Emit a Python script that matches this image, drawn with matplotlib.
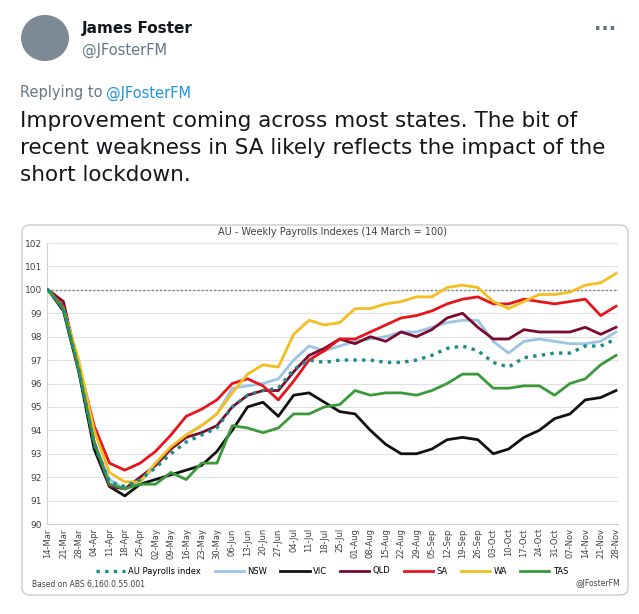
import matplotlib
matplotlib.use("Agg")
import matplotlib.pyplot as plt
from matplotlib.patches import FancyBboxPatch, Circle

dates = ["14-Mar","21-Mar","28-Mar","04-Apr","11-Apr","18-Apr","25-Apr","02-May","09-May","16-May",
         "23-May","30-May","06-Jun","13-Jun","20-Jun","27-Jun","04-Jul","11-Jul","18-Jul","25-Jul",
         "01-Aug","08-Aug","15-Aug","22-Aug","29-Aug","05-Sep","12-Sep","19-Sep","26-Sep","03-Oct",
         "10-Oct","17-Oct","24-Oct","31-Oct","07-Nov","14-Nov","21-Nov","28-Nov"]
au  = [100,99.2,96.6,93.4,91.8,91.6,91.9,92.4,93.0,93.5,93.8,94.1,95.0,95.5,95.7,95.8,96.6,97.0,96.9,97.0,
       97.0,97.0,96.9,96.9,97.0,97.2,97.5,97.6,97.4,96.9,96.7,97.1,97.2,97.3,97.3,97.6,97.6,97.9]
nsw = [100,99.2,96.6,93.5,91.9,91.5,91.8,92.5,93.2,93.8,94.2,94.7,95.8,95.9,96.0,96.2,97.0,97.6,97.4,97.6,
       97.8,97.9,98.0,98.2,98.2,98.4,98.6,98.7,98.7,97.8,97.3,97.8,97.9,97.8,97.7,97.7,97.8,98.2]
vic = [100,99.1,96.5,93.2,91.6,91.2,91.7,91.9,92.1,92.3,92.5,93.1,94.0,95.0,95.2,94.6,95.5,95.6,95.2,94.8,
       94.7,94.0,93.4,93.0,93.0,93.2,93.6,93.7,93.6,93.0,93.2,93.7,94.0,94.5,94.7,95.3,95.4,95.7]
qld = [100,99.5,96.6,93.5,91.6,91.5,92.0,92.5,93.2,93.7,93.9,94.2,95.0,95.5,95.7,95.7,96.5,97.2,97.5,97.9,
       97.7,98.0,97.8,98.2,98.0,98.3,98.8,99.0,98.4,97.9,97.9,98.3,98.2,98.2,98.2,98.4,98.1,98.4]
sa  = [100,99.3,96.8,94.2,92.6,92.3,92.6,93.1,93.8,94.6,94.9,95.3,96.0,96.2,95.9,95.3,96.1,97.0,97.4,97.9,
       97.9,98.2,98.5,98.8,98.9,99.1,99.4,99.6,99.7,99.4,99.4,99.6,99.5,99.4,99.5,99.6,98.9,99.3]
wa  = [100,99.2,97.0,94.0,92.2,91.8,91.8,92.6,93.3,93.8,94.2,94.7,95.6,96.4,96.8,96.7,98.1,98.7,98.5,98.6,
       99.2,99.2,99.4,99.5,99.7,99.7,100.1,100.2,100.1,99.5,99.2,99.5,99.8,99.8,99.9,100.2,100.3,100.7]
tas = [100,99.2,96.6,93.5,91.7,91.5,91.7,91.7,92.2,91.9,92.6,92.6,94.2,94.1,93.9,94.1,94.7,94.7,95.0,95.1,
       95.7,95.5,95.6,95.6,95.5,95.7,96.0,96.4,96.4,95.8,95.8,95.9,95.9,95.5,96.0,96.2,96.8,97.2]

W, H = 639, 614
fig = plt.figure(figsize=(W/100, H/100), dpi=100)
fig.patch.set_facecolor("white")
plt.rcParams['font.family'] = ['DejaVu Sans']

def fx(x): return x / W
def fy(y): return 1 - y / H

# header
av = Circle((fx(45), fy(38)), 24/W, transform=fig.transFigure, facecolor="#7d8a96", edgecolor="none")
fig.patches.append(av)
fig.text(fx(82), fy(28), "James Foster", fontsize=11, fontweight="bold", color="#14171a", va="center")
fig.text(fx(82), fy(50), "@JFosterFM", fontsize=10.5, color="#657786", va="center")
fig.text(fx(616), fy(30), "\u00b7\u00b7\u00b7", fontsize=14, color="#657786", va="center", ha="right", fontweight="bold")
fig.text(fx(20), fy(93), "Replying to ", fontsize=10.5, color="#657786", va="center")
fig.text(fx(106), fy(93), "@JFosterFM", fontsize=10.5, color="#1b95e0", va="center")
fig.text(fx(20), fy(148), "Improvement coming across most states. The bit of\nrecent weakness in SA likely reflects the impact of the\nshort lockdown.",
         fontsize=15.5, color="#14171a", va="center", linespacing=1.45)

# chart card
card = FancyBboxPatch((fx(22), fy(595)), fx(606), 370/H, boxstyle="round,pad=0,rounding_size=0.012",
                      transform=fig.transFigure, facecolor="white", edgecolor="#c8cdd2", lw=1, zorder=-5)
fig.patches.append(card)

ax = fig.add_axes([fx(47), fy(524), fx(571), 281/H])
ax.set_facecolor("none")
x = list(range(len(dates)))
ax.axhline(100, color="#808080", ls=(0, (1.5, 1.5)), lw=1, zorder=1)
ax.plot(x, au, color="#1a8a8a", ls=(0, (1, 1.6)), lw=2.4, label="AU Payrolls index", zorder=4)
ax.plot(x, nsw, color="#9dc3e6", lw=2, label="NSW", zorder=3)
ax.plot(x, vic, color="#111111", lw=2, label="VIC", zorder=3)
ax.plot(x, qld, color="#7a0a2e", lw=2, label="QLD", zorder=3)
ax.plot(x, sa, color="#e8141c", lw=2, label="SA", zorder=3)
ax.plot(x, wa, color="#f5bd1f", lw=2, label="WA", zorder=3)
ax.plot(x, tas, color="#3a9a3a", lw=2, label="TAS", zorder=3)
ax.set_ylim(90, 102)
ax.set_xlim(-0.07, 37.13)
ax.set_yticks(range(90, 103))
ax.set_xticks(x)
ax.set_xticklabels(dates, rotation=90, fontsize=6, color="#404040")
ax.tick_params(axis="y", labelsize=6.5, colors="#404040", length=0)
ax.tick_params(axis="x", length=0, pad=3)
ax.grid(axis="y", color="#e0e0e0", lw=0.8)
ax.set_axisbelow(True)
for s in ["top", "right"]:
    ax.spines[s].set_visible(False)
ax.spines["left"].set_color("#d0d0d0")
ax.spines["bottom"].set_color("#d0d0d0")
ax.set_title("AU - Weekly Payrolls Indexes (14 March = 100)", fontsize=7, color="#404040", pad=6)
fig.legend(loc="center", bbox_to_anchor=(fx(332), fy(571)), ncol=7, frameon=False, fontsize=6,
           handlelength=3.5, columnspacing=1.6, handletextpad=0.4)
fig.text(fx(32), fy(584), "Based on ABS 6,160.0.55.001", fontsize=5.5, color="#404040", va="center")
fig.text(fx(620), fy(584), "@JFosterFM", fontsize=5.5, color="#404040", va="center", ha="right")

fig.savefig("out.png", dpi=100)
